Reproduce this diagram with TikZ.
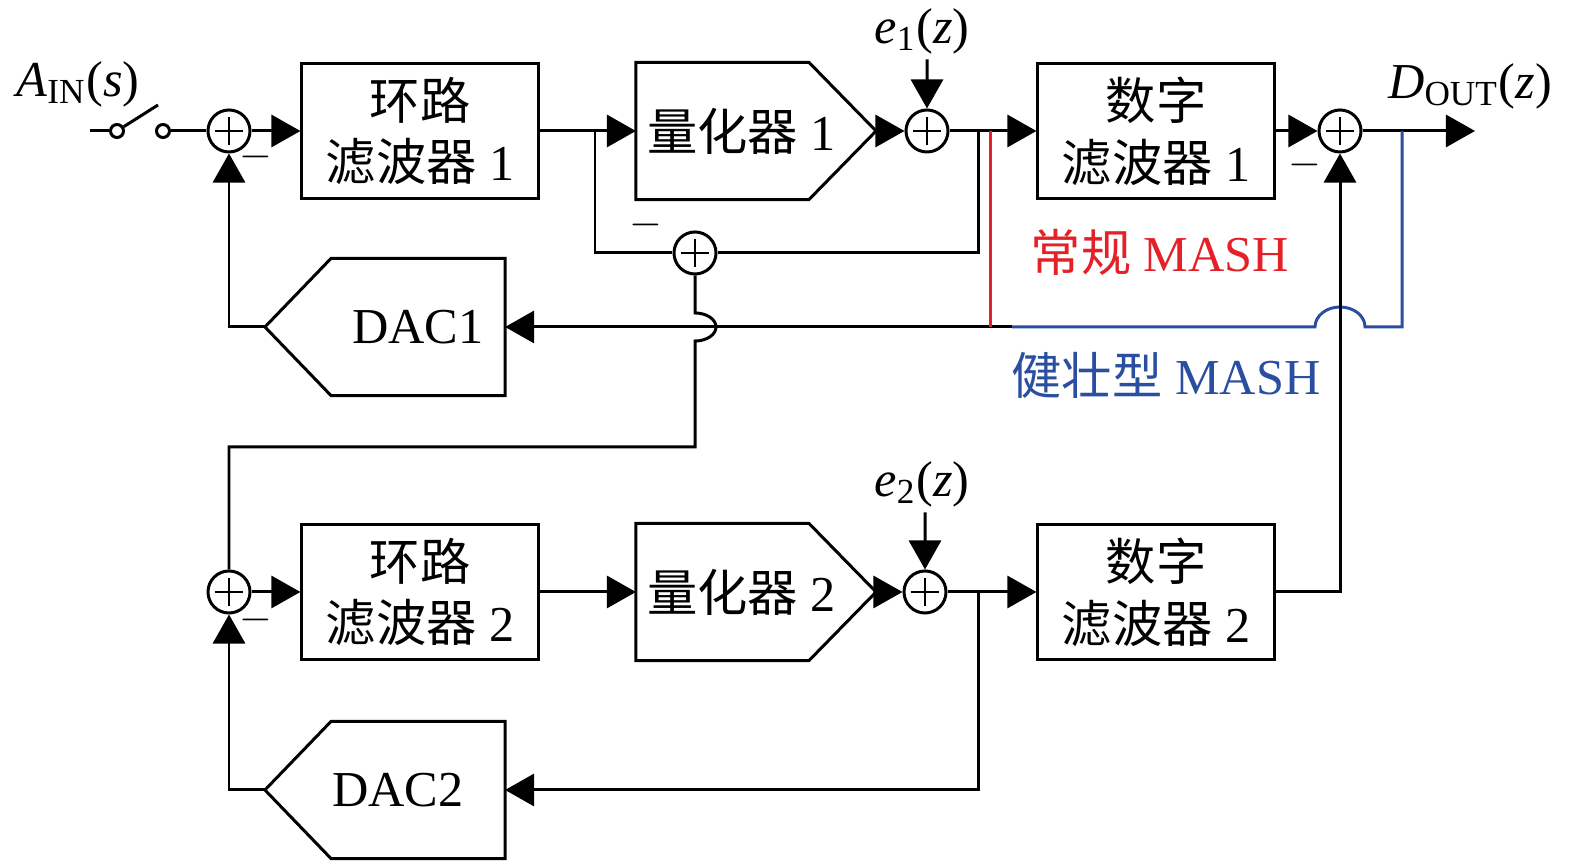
\documentclass[tikz,border=0pt]{standalone}
\usepackage{fontspec}
\setmainfont{Liberation Serif}
\newfontfamily\cjk{Noto Sans CJK SC}
\usetikzlibrary{arrows.meta}
\definecolor{mashred}{RGB}{228,32,40}
\definecolor{mashblue}{RGB}{42,78,160}
\begin{document}
\begin{tikzpicture}[x=0.01cm, y=-0.01cm, line width=0.85pt,
        font=\fontsize{14.3}{17.6}\selectfont,
        arr/.style={-{Triangle[length=2.9mm,width=3.2mm]}},
        block/.style={draw, minimum width=2.36cm, minimum height=1.34cm,
            align=center, inner sep=0pt},
        shapebox/.style={minimum width=2.37cm, minimum height=1.34cm, inner sep=0pt},
        sumnode/.style={circle, draw, minimum size=0.42cm, inner sep=0pt,
            path picture={\draw[line width=0.45pt]
                ([xshift=-0.14cm]path picture bounding box.center) --
                ([xshift=0.14cm]path picture bounding box.center)
                ([yshift=-0.14cm]path picture bounding box.center) --
                ([yshift=0.14cm]path picture bounding box.center);}},
        minus/.style={inner sep=0pt, font=\fontsize{12}{14}\selectfont},
        swdot/.style={circle, draw, fill=white, minimum size=0.13cm, inner sep=0pt},
        lbl/.style={inner sep=2pt}]
    \useasboundingbox (0,0) rectangle (1575,865);
    %% Blocks, first stage
    \node[block] (lf1) at (420,131) {{\cjk 环路}\\{\cjk 滤波器} 1};
    \node[shapebox] (q1) at (756,131) {{\cjk 量化器} 1\hspace*{0.29cm}};
    \draw (q1.north west) -- ([xshift=-0.67cm]q1.north east) -- (q1.east)
        -- ([xshift=-0.67cm]q1.south east) -- (q1.south west) -- cycle;
    \node[block] (df1) at (1156,131) {{\cjk 数字}\\{\cjk 滤波器} 1};
    \node[shapebox] (dac1) at (385,327) {\hspace*{0.66cm}DAC1};
    \draw (dac1.north east) -- (dac1.south east) -- ([xshift=0.66cm]dac1.south west)
        -- (dac1.west) -- ([xshift=0.66cm]dac1.north west) -- cycle;
    %% Blocks, second stage
    \node[block] (lf2) at (420,592) {{\cjk 环路}\\{\cjk 滤波器} 2};
    \node[shapebox] (q2) at (756,592) {{\cjk 量化器} 2\hspace*{0.29cm}};
    \draw (q2.north west) -- ([xshift=-0.67cm]q2.north east) -- (q2.east)
        -- ([xshift=-0.67cm]q2.south east) -- (q2.south west) -- cycle;
    \node[block] (df2) at (1156,592) {{\cjk 数字}\\{\cjk 滤波器} 2};
    \node[shapebox] (dac2) at (385,790) {\hspace*{0.26cm}DAC2};
    \draw (dac2.north east) -- (dac2.south east) -- ([xshift=0.66cm]dac2.south west)
        -- (dac2.west) -- ([xshift=0.66cm]dac2.north west) -- cycle;
    %% Summing points
    \node[sumnode] (s1) at (229,131) {};
    \node[sumnode] (s2) at (927,131) {};
    \node[sumnode] (s3) at (695,253) {};
    \node[sumnode] (s4) at (1340,131) {};
    \node[sumnode] (s5) at (229,592) {};
    \node[sumnode] (s6) at (925,592) {};
    \node[minus] at (256,157) {$-$};
    \node[minus] at (646,225) {$-$};
    \node[minus] at (1305,165) {$-$};
    \node[minus] at (256,620) {$-$};
    %% Labels
    \node[lbl] (ain) at (78,84) {\textit{A}\textsubscript{IN}(\textit{s})};
    \node[lbl] (e1) at (922,31) {\textit{e}\textsubscript{1}(\textit{z})};
    \node[lbl] (e2) at (922,484) {\textit{e}\textsubscript{2}(\textit{z})};
    \node[lbl] (dout) at (1470,86) {\textit{D}\textsubscript{OUT}(\textit{z})};
    \node[mashred] (conv) at (1160,252) {{\cjk 常规} MASH};
    \node[mashblue] (robust) at (1166,375) {{\cjk 健壮型} MASH};
    %% Input switch
    \coordinate (in) at (90,131);
    \node[swdot] (sw1) at (117,131) {};
    \node[swdot] (sw2) at (163,131) {};
    \coordinate (swtip) at (158,105);
    \draw (in) -- (sw1);
    \draw (sw1) -- (swtip);
    \draw (sw2) -- (s1);
    %% First stage
    \coordinate (b1) at (595,131);
    \coordinate (b2) at (978,131);
    \coordinate (yout) at (1475,131);
    \draw[arr] (s1) -- (lf1);
    \draw[arr] (lf1) -- (q1);
    \draw[arr] (q1) -- (s2);
    \draw[arr] ([xshift=0.05cm,yshift=0.03cm]e1.south) -- (s2);
    \draw[arr] (s2) -- (df1);
    \draw[arr] (df1) -- (s4);
    \draw[arr] (s4) -- (yout);
    \draw (b1) |- (s3);
    \draw (b2) |- (s3);
    \draw[arr] (1012,327) -- (dac1);
    \draw[arr] (dac1) -| (s1);
    %% Conventional and robust feedback
    \draw[mashred] (990,131) -- (990,327);
    \draw[mashblue] (1012,327) -- (1315,327)
        arc[start angle=180, end angle=0, x radius=0.25cm, y radius=0.2cm]
        -- (1402,327) -- (1402,131);
    %% Second stage
    \coordinate (b3) at (978,592);
    \draw (s3) -- (695,313)
        arc[start angle=90, end angle=-90, x radius=0.21cm, y radius=0.14cm]
        -- (695,447) -| (s5);
    \draw[arr] (s5) -- (lf2);
    \draw[arr] (lf2) -- (q2);
    \draw[arr] (q2) -- (s6);
    \draw[arr] ([xshift=0.03cm,yshift=0.03cm]e2.south) -- (s6);
    \draw[arr] (s6) -- (df2);
    \draw[arr] (b3) |- (dac2);
    \draw[arr] (dac2) -| (s5);
    \draw[arr] (df2) -| (s4);
\end{tikzpicture}
\end{document}
